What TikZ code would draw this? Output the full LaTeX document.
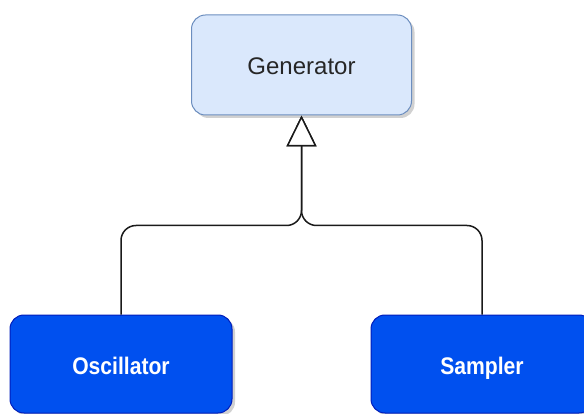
\documentclass[tikz,border=0pt]{standalone}
\usepackage{fontspec}
\usepackage{graphicx}
\setmainfont{Liberation Sans}
\usetikzlibrary{arrows.meta,shadows,calc}
\definecolor{genfill}{HTML}{DAE8FC}
\definecolor{genline}{HTML}{6C8EBF}
\definecolor{implfill}{HTML}{0050EF}
\definecolor{implline}{HTML}{001DBC}
\definecolor{wire}{HTML}{1A1A1A}
\tikzset{
  box/.style={rectangle, rounded corners=14pt, inner sep=0pt, line width=1pt,
    text height=22pt, text depth=2pt,
    drop shadow={shadow xshift=3pt, shadow yshift=-3pt, opacity=0.3, fill=black!60}},
  basebox/.style={box, fill=genfill, draw=genline, text=black!85,
    minimum width=220pt, minimum height=100pt, font=\fontsize{24}{28}\selectfont},
  implbox/.style={box, fill=implfill, draw=implline, text=white,
    minimum width=222pt, minimum height=98pt, font=\bfseries\fontsize{24}{28}\selectfont},
  inherit/.style={draw=wire, line width=1.5pt, rounded corners=15pt,
    -{Triangle[open, length=31pt, width=30pt, fill=white]}}
}
\begin{document}
\begin{tikzpicture}[x=1pt, y=-1pt]
  \useasboundingbox (0,0) rectangle (584,414);
  \clip (0,0) rectangle (584,414);

  % base class and its two implementations
  \node[basebox] (gen) at (301.5,65) {Generator};
  \node[implbox] (osc) at (121,364) {\scalebox{0.88}[1]{Oscillator}};
  \node[implbox] (smp) at (482,364) {\scalebox{0.88}[1]{Sampler}};

  % shared junction below the base class
  \coordinate (hub) at ($(gen.south)+(0,110)$);

  % inheritance connectors
  \draw[inherit] (osc.north) |- (hub) -- (gen.south);
  \draw[inherit] (smp.north) |- (hub) -- (gen.south);
\end{tikzpicture}
\end{document}
